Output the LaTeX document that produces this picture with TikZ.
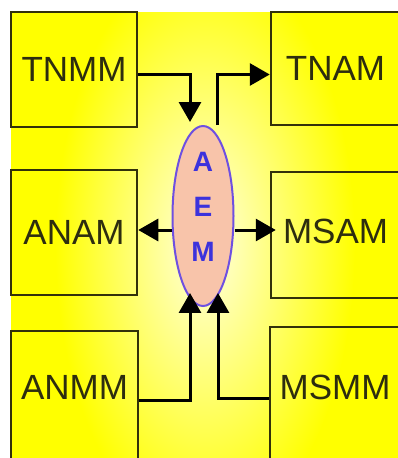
\documentclass[tikz,border=0pt]{standalone}
\usepackage{fontspec}
\setmainfont{Liberation Sans}
\usetikzlibrary{arrows.meta, shapes.geometric}
\definecolor{bgyellow}{RGB}{255,255,0}
\definecolor{glow}{RGB}{255,255,225}
\definecolor{boxline}{RGB}{50,48,10}
\definecolor{boxtext}{RGB}{45,45,15}
\definecolor{aemfill}{RGB}{248,196,170}
\definecolor{aemline}{RGB}{110,80,225}
\definecolor{aemtext}{RGB}{60,50,220}

\begin{document}
\begin{tikzpicture}[x=1pt, y=-1pt,
    modbox/.style={rectangle, draw=boxline, line width=2.5pt, inner sep=0pt, text=boxtext, font=\fontsize{35}{40}\selectfont},
    aemnode/.style={ellipse, draw=aemline, fill=aemfill, line width=2pt, inner sep=0pt, minimum width=61pt, minimum height=142pt, align=center, text=aemtext, text depth=18pt, font=\fontsize{28}{45}\selectfont\bfseries},
    arr/.style={-{Triangle[length=20pt, width=22pt]}, line width=3pt}]

  \useasboundingbox (0,0) rectangle (398,458);

  % background with glow
  \begin{scope}
    \clip (11,12) rectangle (398,458);
    \fill[bgyellow] (11,12) rectangle (402,462);
    \shade[inner color=glow, outer color=bgyellow] (205,245) ellipse [x radius=150pt, y radius=290pt];
  \end{scope}

  \clip (0,0) rectangle (398,458);

  % left column
  \node[modbox, minimum width=126pt, minimum height=115pt] (tnmm) at (74,69.5) {TNMM};
  \node[modbox, minimum width=126pt, minimum height=125pt] (anam) at (74,232.5) {ANAM};
  \node[modbox, minimum width=127pt, minimum height=139pt, text depth=26pt] (anmm) at (74.5,400.5) {ANMM};

  % right column
  \node[modbox, minimum width=129pt, minimum height=113pt] (tnam) at (335.5,68.5) {TNAM};
  \node[modbox, minimum width=129pt, minimum height=126pt, text depth=8pt] (msam) at (335.5,235) {MSAM};
  \node[modbox, minimum width=130pt, minimum height=143pt, text depth=23pt] (msmm) at (335,398.5) {MSMM};

  % centre
  \node[aemnode] (aem) at (203,216) {A\\E\\M};

  \coordinate (side) at ([yshift=-14pt]aem.west);
  \coordinate (sider) at ([yshift=-14pt]aem.east);

  \draw[arr] ([yshift=-5pt]tnmm.east) -| ([xshift=-13pt, yshift=3pt]aem.north);
  \draw[arr] ([xshift=14pt]aem.north) |- ([yshift=-6pt]tnam.west);
  \draw[arr] (side) -- (side -| anam.east);
  \draw[arr] (sider) -- ([xshift=6pt]sider -| msam.west);
  \draw[arr] (anmm.east) -| ([xshift=-13pt, yshift=14pt]aem.south);
  \draw[arr] (msmm.west) -| ([xshift=15pt, yshift=14pt]aem.south);
\end{tikzpicture}
\end{document}
